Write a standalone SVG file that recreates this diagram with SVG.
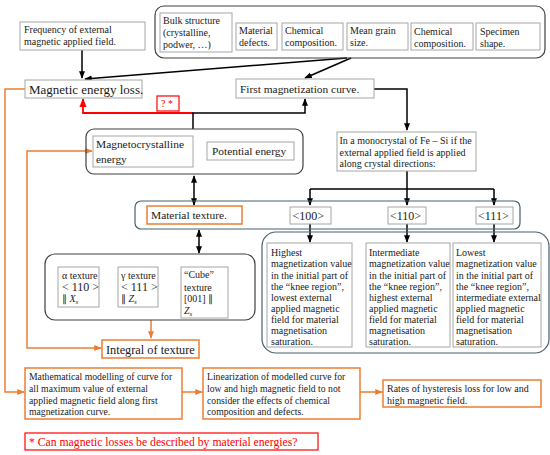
<svg xmlns="http://www.w3.org/2000/svg" width="550" height="455" viewBox="0 0 550 455" font-family="'Liberation Serif', 'Times New Roman', serif">
<defs>
<marker id="ab" viewBox="0 0 10 10" refX="9" refY="5" markerWidth="5" markerHeight="5" orient="auto-start-reverse"><path d="M0,1 L10,5 L0,9 z" fill="#000"/></marker>
<marker id="ao" viewBox="0 0 10 10" refX="9" refY="5" markerWidth="5" markerHeight="5" orient="auto-start-reverse"><path d="M0,1 L10,5 L0,9 z" fill="#ed7d31"/></marker>
<marker id="ar" viewBox="0 0 10 10" refX="9" refY="5" markerWidth="5" markerHeight="5" orient="auto-start-reverse"><path d="M0,1 L10,5 L0,9 z" fill="#ff0000"/></marker>
</defs>
<style>
text{font-family:'Liberation Serif','Times New Roman',serif;fill:#1a1a1a}
.b{fill:#fff;stroke:#a6a6a6;stroke-width:1}
.o{fill:#fff;stroke:#ed7d31;stroke-width:1.5}
.g{fill:none;stroke:#404040;stroke-width:1.2}
.s{fill:none;stroke:#44606e;stroke-width:1.2}
.t10{font-size:10px}
.t97{font-size:9.7px}
.t11{font-size:11.4px}
.t12{font-size:12px}
.t13{font-size:13px}
.cb{fill:none;stroke:#000;stroke-width:1.5}
.co{fill:none;stroke:#ed7d31;stroke-width:1.5}
.cr{fill:none;stroke:#ff0000;stroke-width:1.8}
</style>
<rect width="550" height="455" fill="#fff"/>

<g id="connectors">
<path class="cb" d="M82,50 V78" marker-end="url(#ab)"/>
<path class="cb" d="M347,58 L85,79" marker-end="url(#ab)"/>
<path class="cb" d="M351,58 L305,78" marker-end="url(#ab)"/>
<path class="cr" d="M193,113 H83 V99" marker-end="url(#ar)"/>
<path class="cb" d="M193,129 V113 H305 V99" marker-end="url(#ab)"/>
<path class="cb" d="M374,89 H407 V130" marker-end="url(#ab)"/>
<path class="cb" d="M407,171 V189"/>
<path class="cb" d="M310,189 H494"/>
<path class="cb" d="M310,189 V205" marker-end="url(#ab)"/>
<path class="cb" d="M407,189 V205" marker-end="url(#ab)"/>
<path class="cb" d="M494,189 V205" marker-end="url(#ab)"/>
<path class="cb" d="M194,176 V205" marker-start="url(#ab)" marker-end="url(#ab)"/>
<path class="cb" d="M199,230 V253" marker-start="url(#ab)" marker-end="url(#ab)"/>
<path class="cb" d="M310,224 V242" marker-end="url(#ab)"/>
<path class="cb" d="M407,224 V242" marker-end="url(#ab)"/>
<path class="cb" d="M494,224 V242" marker-end="url(#ab)"/>
<path class="co" d="M151,320 V338" marker-end="url(#ao)"/>
<path class="co" d="M92,151 H27 V348 H101" marker-start="url(#ao)" marker-end="url(#ao)"/>
<path class="co" d="M25,89 H5 V392 H24" marker-end="url(#ao)"/>
<path class="co" d="M182,392 H202" marker-end="url(#ao)"/>
<path class="co" d="M360,392 H382" marker-end="url(#ao)"/>
</g>

<g id="frequency">
<rect class="b" x="20" y="22" width="125" height="28"/>
<text class="t10" x="24" y="33">Frequency of external</text>
<text class="t10" x="24" y="45">magnetic applied field.</text>
</g>

<g id="bulk-group">
<rect class="g" x="155" y="6" width="390" height="52" rx="9"/>
</g>
<g id="bulk-structure">
<rect class="b" x="160" y="13" width="72" height="39"/>
<text class="t10" x="163" y="24">Bulk structure</text>
<text class="t10" x="163" y="36">(crystalline,</text>
<text class="t10" x="163" y="48">podwer, …)</text>
</g>
<g id="material-defects">
<rect class="b" x="236" y="23" width="41" height="27"/>
<text class="t10" x="239" y="34">Material</text>
<text class="t10" x="239" y="46">defects.</text>
</g>
<g id="chemical-1">
<rect class="b" x="282" y="23" width="61" height="27"/>
<text class="t10" x="285" y="34">Chemical</text>
<text class="t10" x="285" y="46">composition.</text>
</g>
<g id="grain-size">
<rect class="b" x="347" y="23" width="61" height="27"/>
<text class="t10" x="350" y="34">Mean grain</text>
<text class="t10" x="350" y="46">size.</text>
</g>
<g id="chemical-2">
<rect class="b" x="411" y="23" width="62" height="27"/>
<text class="t10" x="414" y="35">Chemical</text>
<text class="t10" x="414" y="47">composition.</text>
</g>
<g id="specimen-shape">
<rect class="b" x="476" y="23" width="64" height="27"/>
<text class="t10" x="480" y="35">Specimen</text>
<text class="t10" x="480" y="47">shape.</text>
</g>

<g id="magnetic-energy-loss">
<rect class="b" x="25" y="80" width="117" height="18"/>
<text class="t13" x="29" y="93.5">Magnetic  energy  loss.</text>
</g>
<g id="question">
<rect fill="#fff" stroke="#ff0000" stroke-width="1.2" x="157" y="96" width="22" height="15"/>
<text class="t10" x="161" y="107" style="fill:#ff0000">? *</text>
</g>
<g id="first-magnetization">
<rect class="b" x="236" y="79" width="138" height="19"/>
<text class="t11" x="240" y="92.5">First  magnetization  curve.</text>
</g>

<g id="energy-group">
<rect class="g" x="86" y="129" width="217" height="45" rx="8"/>
</g>
<g id="magnetocrystalline">
<rect class="b" x="93" y="136" width="100" height="31"/>
<text class="t11" x="96" y="148">Magnetocrystalline</text>
<text class="t11" x="96" y="163">energy</text>
</g>
<g id="potential-energy">
<rect class="b" x="207" y="142" width="87" height="18"/>
<text class="t11" x="212" y="155">Potential energy</text>
</g>

<g id="monocrystal">
<rect class="b" x="337" y="132" width="139" height="39"/>
<text class="t10" x="339.5" y="144">In a monocrystal of Fe – Si if the</text>
<text class="t10" x="339.5" y="156">external applied field is applied</text>
<text class="t10" x="339.5" y="167">along crystal directions:</text>
</g>

<g id="texture-row">
<rect class="s" x="135" y="201" width="385" height="28" rx="6"/>
</g>
<g id="material-texture">
<rect class="o" x="147" y="206" width="95" height="18"/>
<text class="t11" x="151" y="219">Material texture.</text>
</g>
<g id="dir-100">
<rect class="b" x="290" y="207" width="41" height="17"/>
<text class="t12" x="292.5" y="220">&lt;100&gt;</text>
</g>
<g id="dir-110">
<rect class="b" x="388" y="207" width="38" height="17"/>
<text class="t12" x="390" y="220">&lt;110&gt;</text>
</g>
<g id="dir-111">
<rect class="b" x="476" y="207" width="37" height="17"/>
<text class="t12" x="478" y="220">&lt;111&gt;</text>
</g>

<g id="texture-group">
<rect class="g" x="45" y="254" width="210" height="66" rx="10"/>
</g>
<g id="alpha-texture">
<rect class="b" x="58" y="267" width="41" height="40"/>
<text class="t10" x="62" y="279">α texture</text>
<text class="t12" x="62" y="291">&lt; 110 &gt;</text>
<text class="t10" x="62" y="302">∥ <tspan font-style="italic">X</tspan><tspan font-style="italic" font-size="7" dy="2">s</tspan></text>
</g>
<g id="gamma-texture">
<rect class="b" x="118" y="267" width="40" height="40"/>
<text class="t10" x="121" y="279">γ texture</text>
<text class="t12" x="121" y="291">&lt; 111 &gt;</text>
<text class="t10" x="121" y="302">∥ <tspan font-style="italic">Z</tspan><tspan font-style="italic" font-size="7" dy="2">s</tspan></text>
</g>
<g id="cube-texture">
<rect class="b" x="181" y="267" width="47" height="51"/>
<text class="t10" x="184" y="278">“Cube”</text>
<text class="t10" x="184" y="291">texture</text>
<text class="t10" x="184" y="302">[001] ∥</text>
<text class="t10" x="184" y="314"><tspan font-style="italic">Z</tspan><tspan font-style="italic" font-size="7" dy="2">s</tspan></text>
</g>

<g id="integral">
<rect class="o" x="102" y="340" width="97" height="18"/>
<text x="106" y="353.5" font-size="12.3">Integral  of texture</text>
</g>

<g id="descriptions-group">
<rect class="s" x="262" y="232" width="287" height="121" rx="14"/>
</g>
<g id="desc-100">
<rect class="b" x="267" y="243" width="85" height="104"/>
<text class="t10" x="271" y="256">Highest</text>
<text class="t10" x="271" y="267">magnetization value</text>
<text class="t10" x="271" y="278.5">in the initial part of</text>
<text class="t10" x="271" y="289.5">the “knee region”,</text>
<text class="t10" x="271" y="301">lowest external</text>
<text class="t10" x="271" y="312">applied magnetic</text>
<text class="t10" x="271" y="323">field for material</text>
<text class="t10" x="271" y="334">magnetisation</text>
<text class="t10" x="271" y="345">saturation.</text>
</g>
<g id="desc-110">
<rect class="b" x="366" y="243" width="84" height="104"/>
<text class="t10" x="369" y="256">Intermediate</text>
<text class="t10" x="369" y="267">magnetization value</text>
<text class="t10" x="369" y="278.5">in the initial part of</text>
<text class="t10" x="369" y="289.5">the “knee region”,</text>
<text class="t10" x="369" y="301">highest external</text>
<text class="t10" x="369" y="312">applied magnetic</text>
<text class="t10" x="369" y="323">field for material</text>
<text class="t10" x="369" y="334">magnetisation</text>
<text class="t10" x="369" y="345">saturation.</text>
</g>
<g id="desc-111">
<rect class="b" x="453" y="243" width="88" height="104"/>
<text class="t10" x="456" y="256">Lowest</text>
<text class="t10" x="456" y="267">magnetization value</text>
<text class="t10" x="456" y="278.5">in the initial part of</text>
<text class="t10" x="456" y="289.5">the “knee region”,</text>
<text class="t10" x="456" y="301">intermediate external</text>
<text class="t10" x="456" y="312">applied magnetic</text>
<text class="t10" x="456" y="323">field for material</text>
<text class="t10" x="456" y="334">magnetisation</text>
<text class="t10" x="456" y="345">saturation.</text>
</g>

<g id="math-modelling">
<rect class="o" x="25" y="368" width="157" height="51"/>
<text class="t97" x="29" y="380">Mathematical modelling of curve for</text>
<text class="t97" x="29" y="392">all maximum  value of external</text>
<text class="t97" x="29" y="404">applied magnetic field along first</text>
<text class="t97" x="29" y="415">magnetization curve.</text>
</g>
<g id="linearization">
<rect class="o" x="203" y="368" width="157" height="51"/>
<text class="t97" x="207" y="380">Linearization of modelled curve for</text>
<text class="t97" x="207" y="392">low and high magnetic field to not</text>
<text class="t97" x="207" y="404">consider the effects of chemical</text>
<text class="t97" x="207" y="415">composition and defects.</text>
</g>
<g id="rates">
<rect class="o" x="383" y="380" width="158" height="27"/>
<text class="t10" x="387" y="392">Rates of hysteresis loss for low and</text>
<text class="t10" x="387" y="404">high magnetic field.</text>
</g>

<g id="question-note">
<rect fill="#fff" stroke="#ff0000" stroke-width="1.2" x="25" y="433" width="293" height="17"/>
<text x="29" y="446" font-size="11.7" style="fill:#ff0000">* Can magnetic  losses  be described by material energies?</text>
</g>
</svg>
